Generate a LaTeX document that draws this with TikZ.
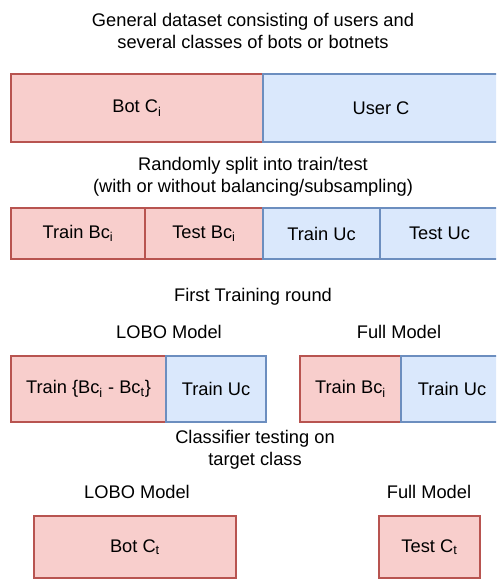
\documentclass[tikz,border=0pt]{standalone}
\usepackage{fontspec}
\setmainfont{Liberation Sans}
\newcommand{\lobofont}{\fontsize{13}{15.6}\selectfont}
\begin{document}
\begin{tikzpicture}[
  botbox/.style={shape=rectangle,draw=lobo_botline,fill=lobo_botfill,line width=0.9pt,font=\lobofont},
  userbox/.style={shape=rectangle,draw=lobo_userline,fill=lobo_userfill,line width=0.9pt,font=\lobofont},
  caption/.style={align=center,font=\lobofont}]
\definecolor{lobo_botfill}{RGB}{248,206,204}
\definecolor{lobo_botline}{RGB}{184,84,80}
\definecolor{lobo_userfill}{RGB}{218,232,252}
\definecolor{lobo_userline}{RGB}{108,142,191}
\clip (0,0) rectangle (12.4,14.5);

\node[caption] (title) at (6.325,13.725) {General dataset consisting of users and\\several classes of bots or botnets};
\node[botbox,minimum width=6.3cm,minimum height=1.7cm] (botc) at (3.425,11.8) {Bot C\textsubscript{i}};
\node[userbox,minimum width=5.9cm,minimum height=1.7cm] (userc) at (9.525,11.8) {User C};

\node[caption] (split) at (6.325,10.08) {Randomly split into train/test\\(with or without balancing/subsampling)};
\node[botbox,minimum width=3.35cm,minimum height=1.275cm] (trainbc) at (1.95,8.6625) {Train Bc\textsubscript{i}};
\node[botbox,minimum width=2.95cm,minimum height=1.275cm] (testbc) at (5.1,8.6625) {Test Bc\textsubscript{i}};
\node[userbox,minimum width=2.925cm,minimum height=1.275cm] (trainuc) at (8.0375,8.6625) {Train Uc};
\node[userbox,minimum width=2.975cm,minimum height=1.275cm] (testuc) at (10.9875,8.6625) {Test Uc};

\node[caption] (round) at (6.325,7.08) {First Training round};
\node[caption] (lobotrain) at (4.225,6.2) {LOBO Model};
\node[caption] (fulltrain) at (9.975,6.2) {Full Model};
\node[botbox,minimum width=3.875cm,minimum height=1.65cm] (lobobc) at (2.2125,4.775) {Train \{Bc\textsubscript{i} - Bc\textsubscript{t}\}};
\node[userbox,minimum width=2.5cm,minimum height=1.65cm] (lobouc) at (5.4,4.775) {Train Uc};
\node[botbox,minimum width=2.525cm,minimum height=1.65cm] (fullbc) at (8.7625,4.775) {Train Bc\textsubscript{i}};
\node[userbox,minimum width=2.55cm,minimum height=1.65cm] (fulluc) at (11.3,4.775) {Train Uc};

\node[caption] (testing) at (6.375,3.25) {Classifier testing on\\target class};
\node[caption] (lobotest) at (3.425,2.2) {LOBO Model};
\node[caption] (fulltest) at (10.725,2.2) {Full Model};
\node[botbox,minimum width=5.05cm,minimum height=1.55cm] (botct) at (3.375,0.825) {Bot C\textsubscript{t}};
\node[botbox,minimum width=2.525cm,minimum height=1.55cm] (testct) at (10.7375,0.825) {Test C\textsubscript{t}};
\end{tikzpicture}
\end{document}
